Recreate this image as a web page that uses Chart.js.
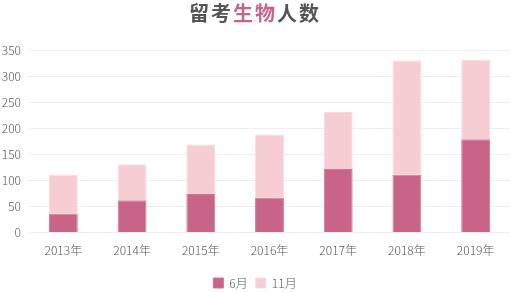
<!DOCTYPE html>
<html>
<head>
<meta charset="utf-8">
<script src="https://cdn.jsdelivr.net/npm/chart.js@4/dist/chart.umd.min.js"></script>
<style>
  html, body { margin: 0; padding: 0; background: #fff; }
  #wrap { position: relative; width: 510px; height: 292px; }
  #title { position: absolute; left: 0; top: 0; width: 510px; text-align: center;
    font-family: "Noto Sans CJK SC", sans-serif; font-weight: bold; font-size: 20px;
    letter-spacing: 2px; line-height: 26px; color: #555; }
  #title .hl { color: #c8628a; }
  canvas { position: absolute; left: 0; top: 0; }
</style>
</head>
<body>
<div id="wrap">
  <canvas id="c" width="510" height="292"></canvas>
  <div id="title">留考<span class="hl">生物</span>人数</div>
</div>
<script>
const categories = ["2013年", "2014年", "2015年", "2016年", "2017年", "2018年", "2019年"];
const juneValues = [36, 62, 74, 67, 122, 111, 179];
const novValues = [75, 69, 95, 121, 109, 219, 152];
const seriesNames = ["6月", "11月"];

const FONT = '"Noto Sans CJK SC", "Noto Sans", sans-serif';

new Chart(document.getElementById('c'), {
  type: 'bar',
  data: {
    labels: categories,
    datasets: [
      { label: seriesNames[0], data: juneValues, backgroundColor: '#c76487',
        borderColor: '#d07594', borderWidth: 1, borderSkipped: 'bottom' },
      { label: seriesNames[1], data: novValues, backgroundColor: '#f5cdd3',
        borderColor: '#f8dbe0', borderWidth: 1, borderSkipped: 'bottom' }
    ]
  },
  options: {
    responsive: false,
    animation: false,
    layout: { padding: { top: 50, right: 0, left: 0, bottom: -7 } },
    datasets: { bar: { categoryPercentage: 0.8, barPercentage: 0.525 } },
    plugins: {
      title: { display: false },
      tooltip: { enabled: false },
      legend: {
        position: 'bottom',
        labels: { boxWidth: 10, boxHeight: 10, padding: 8, color: '#555',
          font: { family: FONT, size: 12, weight: 300 } }
      }
    },
    scales: {
      x: {
        stacked: true,
        grid: { display: false, drawTicks: false },
        border: { display: false },
        ticks: { color: '#555', padding: 11, font: { family: FONT, size: 12, weight: 300 } }
      },
      y: {
        stacked: true,
        min: 0, max: 350,
        afterFit: (axis) => { axis.width = 29; },
        ticks: { stepSize: 50, color: '#555', padding: 8, font: { family: FONT, size: 12, weight: 300 } },
        grid: { color: '#eeeeee', drawTicks: false },
        border: { display: false }
      }
    }
  }
});
</script>
</body>
</html>
